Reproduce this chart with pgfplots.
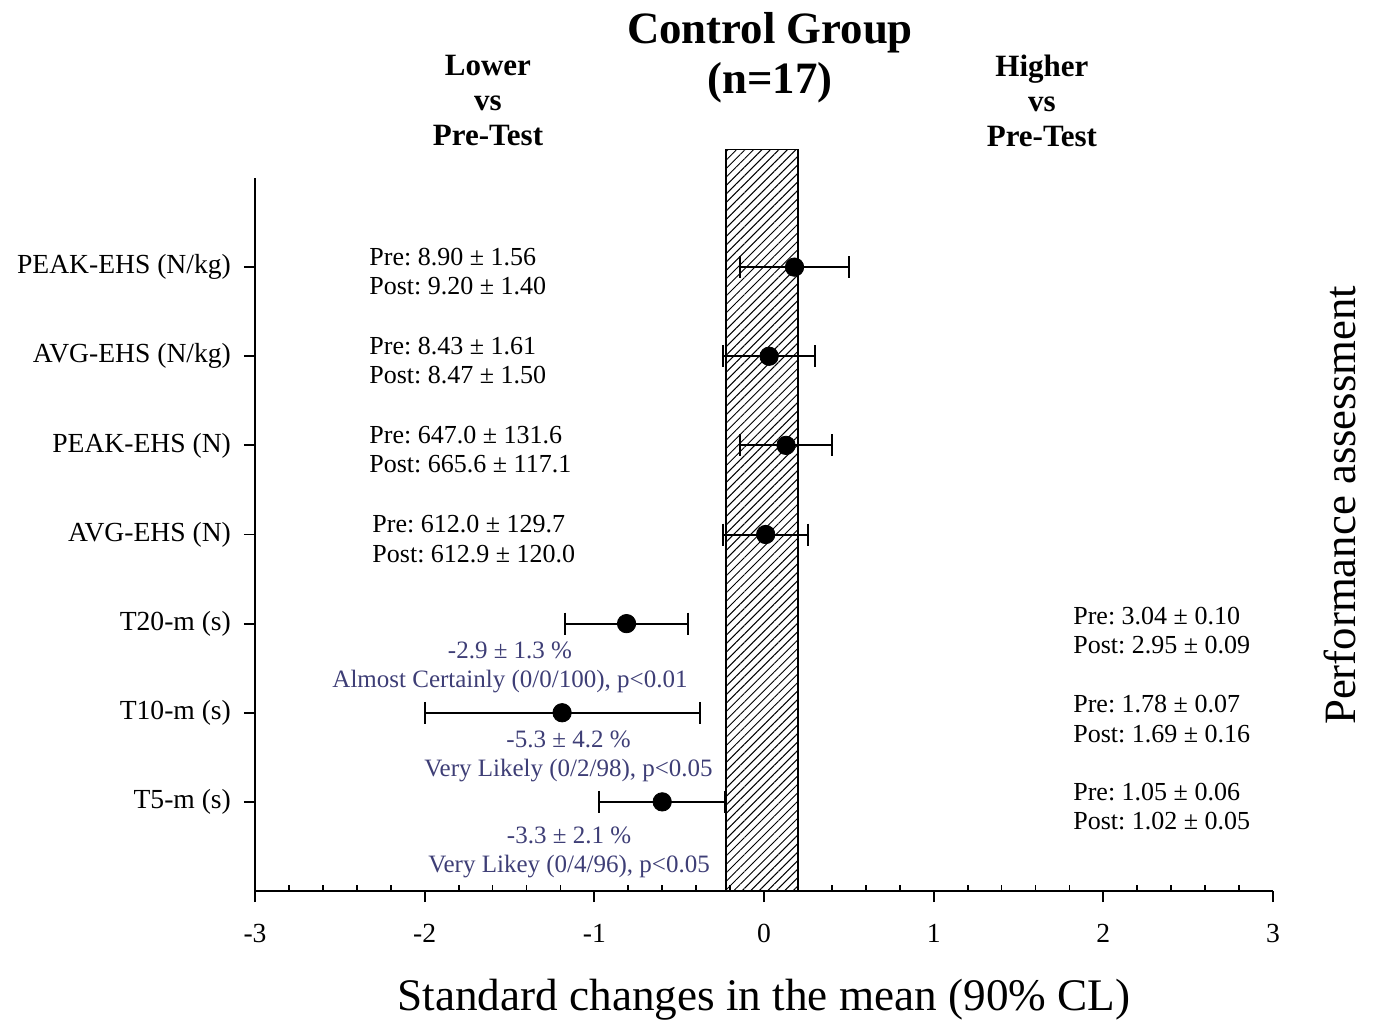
\documentclass[border=0pt]{standalone}
\usepackage{pgfplots}
\pgfplotsset{compat=1.18}
\usepackage{fontspec}
\setmainfont{Liberation Serif}
\usetikzlibrary{patterns.meta}
\definecolor{annot}{RGB}{62,62,118}
\frenchspacing

\begin{document}
\begin{tikzpicture}
\useasboundingbox (-127.5pt,-65.5pt) rectangle (559.5pt,445.5pt);
\begin{axis}[
  at={(0,0)}, anchor=south west,
  scale only axis, width=509pt, height=356.5pt,
  xmin=-3, xmax=3, ymin=0, ymax=8,
  axis lines*=left,
  axis line style={line width=1pt},
  clip=false,
  xtick={-3,-2,-1,0,1,2,3},
  xticklabels={-3,-2,-1,0,1,2,3},
  minor x tick num=4,
  ytick={1,2,3,4,5,6,7},
  yticklabels={T5-m (s),T10-m (s),T20-m (s),AVG-EHS (N),PEAK-EHS (N),AVG-EHS (N/kg),PEAK-EHS (N/kg)},
  tick align=outside,
  major tick length=5.5pt,
  minor tick length=3pt,
  tick style={line width=0.9pt, black},
  minor x tick style={yshift=3pt},
  ticklabel style={font=\fontsize{13.8}{16}\selectfont},
  xticklabel style={yshift=-7.5pt},
  yticklabel style={xshift=-3pt},
  xlabel={Standard changes in the mean (90\% CL)},
  xlabel style={font=\fontsize{22.6}{26}\selectfont, at={(axis description cs:0.5,-0.153)}, anchor=center},
]
% smallest worthwhile change zone
\addplot[draw=black, line width=0.7pt, pattern={Lines[angle=45, distance=3pt, line width=0.5pt]}]
  coordinates {(-0.224,8.32) (0.2,8.32)} \closedcycle;

% 90% confidence limits (lower, upper) per outcome
\addplot[black, line width=1pt, unbounded coords=jump,
  mark=|, mark size=5.5pt, mark options={solid, line width=1pt}]
  coordinates {
  (-0.14,7) (0.50,7) (nan,nan)
  (-0.24,6) (0.30,6) (nan,nan)
  (-0.14,5) (0.40,5) (nan,nan)
  (-0.24,4) (0.26,4) (nan,nan)
  (-1.17,3) (-0.45,3) (nan,nan)
  (-2.00,2) (-0.38,2) (nan,nan)
  (-0.97,1) (-0.23,1)
};

% standardised changes in the mean
\addplot[only marks, mark=*, mark size=4.6pt, black]
  coordinates {
  (0.18,7) (0.03,6) (0.13,5) (0.01,4) (-0.81,3) (-1.19,2) (-0.60,1)
};

\begin{scope}[every node/.style={inner sep=0pt, align=left, anchor=west, font=\fontsize{13}{14.6}\selectfont}]
\node at (axis cs:-2.328,6.95) {Pre: 8.90 ± 1.56\\Post: 9.20 ± 1.40};
\node at (axis cs:-2.328,5.95) {Pre: 8.43 ± 1.61\\Post: 8.47 ± 1.50};
\node at (axis cs:-2.328,4.95) {Pre: 647.0 ± 131.6\\Post: 665.6 ± 117.1};
\node at (axis cs:-2.31,3.95) {Pre: 612.0 ± 129.7\\Post: 612.9 ± 120.0};
\node at (axis cs:1.821,2.92) {Pre: 3.04 ± 0.10\\Post: 2.95 ± 0.09};
\node at (axis cs:1.821,1.93) {Pre: 1.78 ± 0.07\\Post: 1.69 ± 0.16};
\node at (axis cs:1.821,0.95) {Pre: 1.05 ± 0.06\\Post: 1.02 ± 0.05};
\end{scope}

\begin{scope}[every node/.style={inner sep=0pt, align=center, text=annot, font=\fontsize{12.5}{14.5}\selectfont}]
\node at (axis cs:-1.497,2.51) {-2.9 ± 1.3 \%\\Almost Certainly (0/0/100), p<0.01};
\node at (axis cs:-1.152,1.51) {-5.3 ± 4.2 \%\\Very Likely (0/2/98), p<0.05};
\node at (axis cs:-1.149,0.434) {-3.3 ± 2.1 \%\\Very Likey (0/4/96), p<0.05};
\end{scope}

\node[align=center, inner sep=0pt, font=\bfseries\fontsize{22.4}{25}\selectfont] at (axis cs:0.035,9.35) {Control Group\\(n=17)};
\node[align=center, inner sep=0pt, font=\bfseries\fontsize{15.5}{17.5}\selectfont] at (axis cs:-1.627,8.864) {Lower\\vs\\Pre-Test};
\node[align=center, inner sep=0pt, font=\bfseries\fontsize{15.5}{17.5}\selectfont] at (axis cs:1.638,8.864) {Higher\\vs\\Pre-Test};
\node[rotate=90, inner sep=0pt, font=\fontsize{22.4}{25}\selectfont] at (axis description cs:1.066,0.541) {Performance assessment};
\end{axis}
\end{tikzpicture}
\end{document}
